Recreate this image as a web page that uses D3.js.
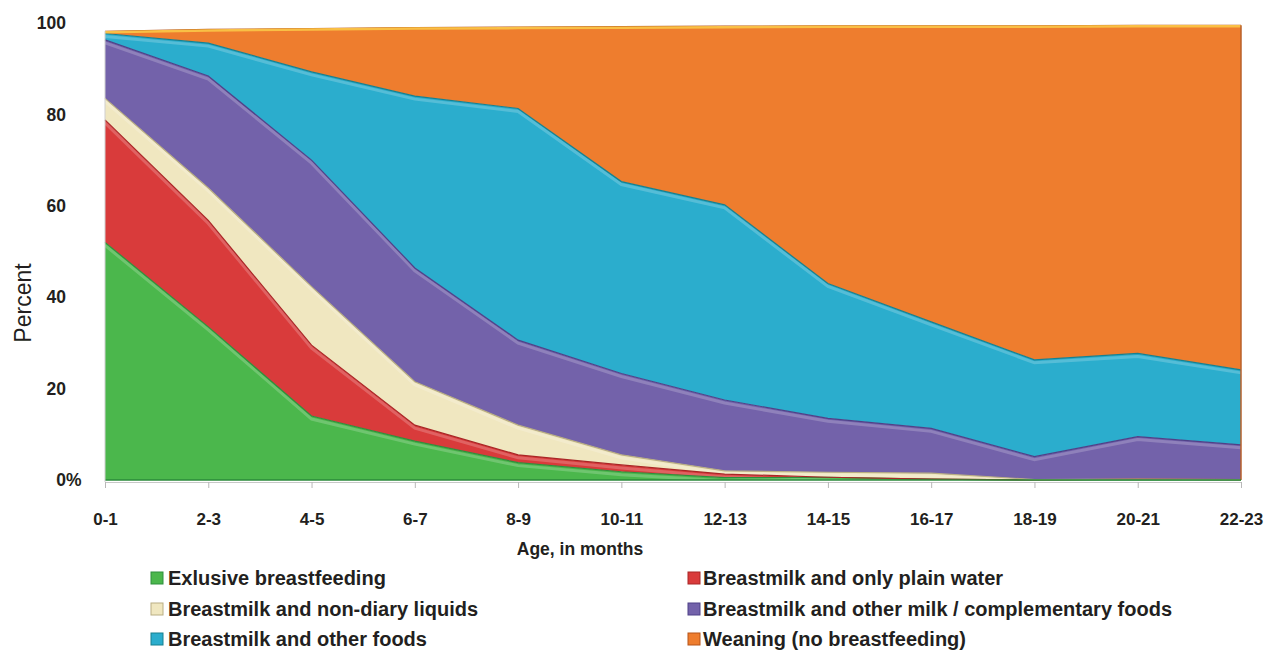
<!DOCTYPE html>
<html>
<head>
<meta charset="utf-8">
<script src="https://cdn.jsdelivr.net/npm/d3@7"></script>
<style>
  html, body { margin: 0; padding: 0; background: #fff; }
  svg { display: block; }
  text { font-family: "Liberation Sans", Arial, Helvetica, sans-serif; fill: #231f20; }
</style>
</head>
<body>
<svg id="chart" width="1269" height="656"></svg>
<script>
// ---- data ----
const categories = ["0-1","2-3","4-5","6-7","8-9","10-11","12-13","14-15","16-17","18-19","20-21","22-23"];
const seriesNames = [
  "Exlusive breastfeeding",
  "Breastmilk and only plain water",
  "Breastmilk and non-diary liquids",
  "Breastmilk and other milk / complementary foods",
  "Breastmilk and other foods",
  "Weaning (no breastfeeding)"
];
const exclusive   = [52.0, 33.5, 14.0, 8.5, 3.8, 1.8, 0.5, 0.6, 0.2, 0.0, 0.0, 0.0];
const plainWater  = [26.8, 23.3, 15.5, 3.5, 1.7, 1.5, 0.8, 0.0, 0.0, 0.0, 0.2, 0.1];
const nonDairy    = [4.7, 7.1, 12.8, 9.5, 6.5, 2.2, 0.7, 1.1, 1.3, 0.1, 0.0, 0.0];
const otherMilk   = [12.8, 24.5, 27.7, 24.9, 18.6, 17.8, 15.5, 11.8, 9.8, 5.0, 9.3, 7.6];
const otherFoods  = [1.4, 7.2, 19.3, 37.6, 50.7, 42.0, 42.7, 29.5, 23.3, 21.2, 18.2, 16.4];
const weaning     = [0.5, 3.0, 9.5, 15.0, 17.8, 33.9, 39.1, 56.4, 64.8, 73.1, 71.8, 75.4];
const yTicks = [0, 20, 40, 60, 80, 100];

const fills  = ["#4bb74c", "#d93b3b", "#f0e7c0", "#7362aa", "#2badcd", "#ee7d2e"];
const edges  = ["#2f8f3c", "#a92626", "#b9ae83", "#4f4188", "#17808f", "#b65419"];

// ---- build table ----
const seriesValues = [exclusive, plainWater, nonDairy, otherMilk, otherFoods, weaning];
const table = categories.map((c, i) => {
  const row = { cat: c };
  seriesNames.forEach((n, k) => row[n] = seriesValues[k][i]);
  return row;
});
const stacked = d3.stack().keys(seriesNames)(table);

const svg = d3.select("#chart");
const x = d3.scalePoint().domain(categories).range([105, 1241]);
const y = d3.scaleLinear().domain([0, 100]).range([480, 23]);

const area = d3.area()
  .x(d => x(d.data.cat))
  .y0(d => y(d[0]))
  .y1(d => y(d[1]));
const topLine = d3.line()
  .x(d => x(d.data.cat))
  .y(d => y(d[1]));

const g = svg.append("g");
g.selectAll("path.area")
  .data(stacked)
  .join("path")
  .attr("class", "area")
  .attr("fill", (d, i) => fills[i])
  .attr("d", area);

// soft highlight just under each top edge (bevel look)
g.selectAll("path.hl")
  .data(stacked)
  .join("path")
  .attr("class", "hl")
  .attr("fill", "none")
  .attr("stroke", "#ffffff")
  .attr("stroke-opacity", (d, i) => i === 5 ? 0 : 0.2)
  .attr("stroke-width", 3)
  .attr("transform", "translate(0,3)")
  .attr("d", topLine);

// darker edges
g.selectAll("path.edge")
  .data(stacked)
  .join("path")
  .attr("class", "edge")
  .attr("fill", "none")
  .attr("stroke", (d, i) => edges[i])
  .attr("stroke-width", 1.2)
  .attr("d", topLine);

// top highlight on orange
g.append("path")
  .datum(stacked[5])
  .attr("fill", "none")
  .attr("stroke", "#f9bf45")
  .attr("stroke-width", 2.5)
  .attr("transform", "translate(0,1)")
  .attr("d", topLine);

const last = categories.length - 1;
// right edge of chart
g.append("line")
  .attr("x1", x(categories[last])).attr("x2", x(categories[last]))
  .attr("y1", y(stacked[5][last][1])).attr("y2", y(0))
  .attr("stroke", "#b8602a").attr("stroke-width", 1.5);

// green base line
g.append("line")
  .attr("x1", x(categories[0])).attr("x2", x(categories[last]))
  .attr("y1", y(0)).attr("y2", y(0))
  .attr("stroke", "#2a8a3a").attr("stroke-width", 1.5);

// left axis line (light)
svg.append("line")
  .attr("x1", 105).attr("x2", 105)
  .attr("y1", y(stacked[5][0][1])).attr("y2", y(0) + 2)
  .attr("stroke", "#cfcfcf").attr("stroke-width", 1);

// ---- x axis ----
const xAxis = svg.append("g")
  .attr("transform", `translate(0,${y(0) + 2})`)
  .call(d3.axisBottom(x).tickSize(6).tickPadding(25));
xAxis.select(".domain").attr("stroke", "#c8c8c8");
xAxis.selectAll(".tick line").attr("stroke", "#b8b8b8");
xAxis.selectAll(".tick text")
  .style("font-family", '"Liberation Sans", Arial, sans-serif')
  .style("font-weight", "bold")
  .style("font-size", "17px")
  .attr("fill", "#231f20");

// ---- y axis ----
const yAxis = svg.append("g")
  .attr("transform", "translate(105,0)")
  .call(d3.axisLeft(y).tickValues(yTicks).tickSize(0).tickPadding(39)
        .tickFormat(d => d === 0 ? "0" : String(d)));
yAxis.select(".domain").remove();
yAxis.selectAll(".tick text")
  .style("font-family", '"Liberation Sans", Arial, sans-serif')
  .style("font-weight", "bold")
  .style("font-size", "17.5px")
  .attr("fill", "#231f20");
yAxis.selectAll(".tick").filter(d => d === 0)
  .append("text")
  .attr("x", -39)
  .attr("dy", "0.32em")
  .attr("text-anchor", "start")
  .style("font-family", '"Liberation Sans", Arial, sans-serif')
  .style("font-weight", "bold")
  .style("font-size", "17.5px")
  .attr("fill", "#231f20")
  .text("%");

// axis titles
svg.append("text")
  .attr("transform", "translate(31,303) rotate(-90)")
  .attr("text-anchor", "middle")
  .style("font-size", "23px")
  .text("Percent");

svg.append("text")
  .attr("x", 580).attr("y", 555)
  .attr("text-anchor", "middle")
  .style("font-size", "17.5px")
  .style("font-weight", "bold")
  .text("Age, in months");

// ---- legend ----
const legendPos = [
  { sx: 151, tx: 168, cy: 578 },
  { sx: 688, tx: 703, cy: 578 },
  { sx: 151, tx: 168, cy: 609 },
  { sx: 688, tx: 703, cy: 609 },
  { sx: 151, tx: 168, cy: 639 },
  { sx: 688, tx: 703, cy: 639 }
];
const leg = svg.append("g").selectAll("g")
  .data(seriesNames)
  .join("g")
  .attr("transform", (d, i) => `translate(0,${legendPos[i].cy})`);
leg.append("rect")
  .attr("x", (d, i) => legendPos[i].sx)
  .attr("y", -6)
  .attr("width", 12).attr("height", 12)
  .attr("fill", (d, i) => fills[i])
  .attr("stroke", (d, i) => edges[i])
  .attr("stroke-width", 1);
leg.append("text")
  .attr("x", (d, i) => legendPos[i].tx)
  .attr("dy", "0.35em")
  .style("font-size", "20px")
  .style("font-weight", "bold")
  .text(d => d);
</script>
</body>
</html>
